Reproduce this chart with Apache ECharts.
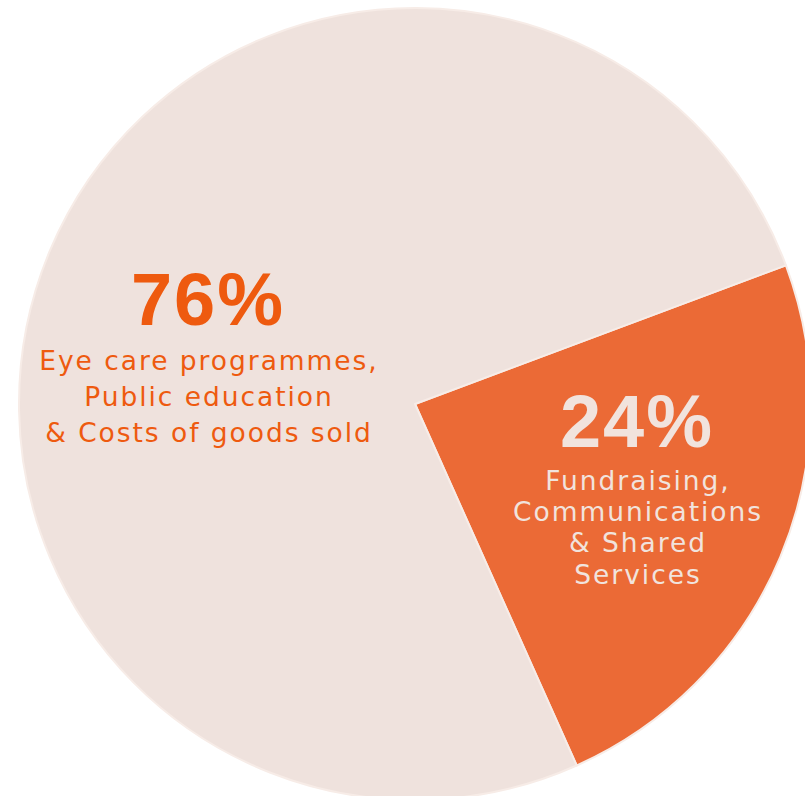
<!DOCTYPE html>
<html>
<head>
<meta charset="utf-8">
<script src="https://cdn.jsdelivr.net/npm/echarts@6/dist/echarts.min.js"></script>
<style>
html,body{margin:0;padding:0;background:#ffffff;}
#c{width:805px;height:796px;}
#c svg text{letter-spacing:1.95px;}
</style>
</head>
<body>
<div id="c"></div>
<script>
var categories = ["Fundraising, Communications & Shared Services", "Eye care programmes, Public education & Costs of goods sold"];
var values = [24, 76];
var labelLines = [
  ["Fundraising,", "Communications", "& Shared", "Services"],
  ["Eye care programmes,", "Public education", "& Costs of goods sold"]
];
var colors = ["#eb6a36", "#efe2dd"];
var textColors = ["#f1e3dd", "#ee5a0f"];

var chart = echarts.init(document.getElementById('c'), null, { renderer: 'svg' });

var pctData = categories.map(function (name, i) {
  return {
    name: name,
    value: values[i],
    itemStyle: { color: colors[i] },
    label: { formatter: values[i] + '%', color: textColors[i] }
  };
});
var descData = categories.map(function (name, i) {
  return {
    name: name,
    value: values[i],
    label: {
      formatter: labelLines[i].join('\n'),
      color: textColors[i],
      lineHeight: i === 0 ? 31.3 : 36
    }
  };
});

var common = {
  type: 'pie',
  silent: true,
  center: [415, 404],
  radius: 396,
  startAngle: 20.5,
  clockwise: true,
  labelLine: { show: false }
};

chart.setOption({
  animation: false,
  series: [
    Object.assign({}, common, {
      itemStyle: { borderColor: '#f7ece7', borderWidth: 2 },
      label: { show: true, position: 'inside', fontSize: 74, fontWeight: 'bold', fontFamily: '"Liberation Sans"' },
      labelLayout: function (p) {
        return p.dataIndex === 0
          ? { x: 637, y: 421, align: 'center', verticalAlign: 'middle' }
          : { x: 208, y: 299, align: 'center', verticalAlign: 'middle' };
      },
      data: pctData
    }),
    Object.assign({}, common, {
      itemStyle: { color: 'rgba(0,0,0,0)' },
      label: { show: true, position: 'inside', fontSize: 26.5, fontFamily: '"DejaVu Sans"', align: 'center' },
      labelLayout: function (p) {
        return p.dataIndex === 0
          ? { x: 638, y: 464.5, align: 'center', verticalAlign: 'top' }
          : { x: 209, y: 342, align: 'center', verticalAlign: 'top' };
      },
      data: descData
    })
  ]
});
</script>
</body>
</html>
